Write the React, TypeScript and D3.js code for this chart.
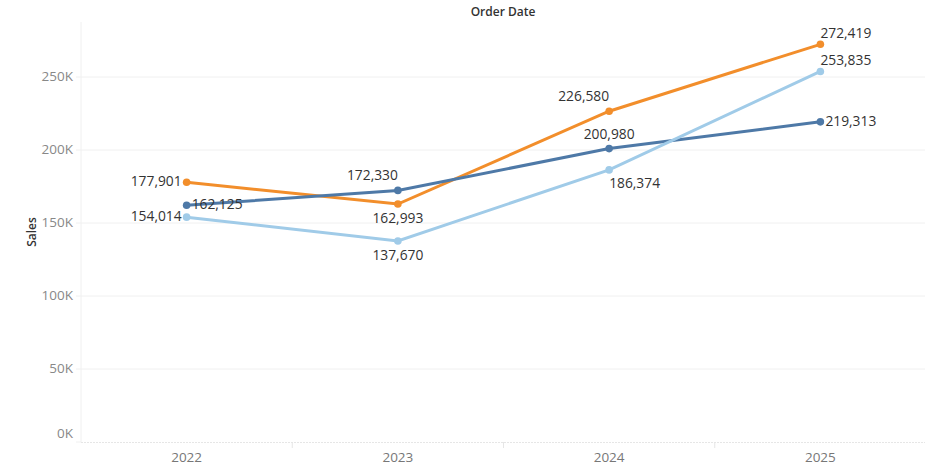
import React, { useEffect, useMemo } from "react";
import * as d3 from "d3";

// data
const YEARS = ["2022", "2023", "2024", "2025"];
const DARK_BLUE = [162125, 172330, 200980, 219313];
const ORANGE = [177901, 162993, 226580, 272419];
const LIGHT_BLUE = [154014, 137670, 186374, 253835];
const Y_TICKS = [0, 50000, 100000, 150000, 200000, 250000];

// where each value label sits relative to its point
const PLACE_DARK = ["r", "tl", "t", "r"];
const PLACE_ORANGE = ["l", "b", "tl", "tr"];
const PLACE_LIGHT = ["l", "b", "br", "tr"];

const W = 925;
const H = 469;
const LEFT = 81;
const RIGHT = 926;
const TOP = 22;
const BOTTOM = 442;
const FONT = "'Open Sans', sans-serif";

const fmt = d3.format(",");

function labelProps(place: string, x: number, y: number) {
  switch (place) {
    case "l":
      return { x: x - 5, y: y, anchor: "end" };
    case "r":
      return { x: x + 5, y: y, anchor: "start" };
    case "t":
      return { x: x, y: y - 13, anchor: "middle" };
    case "b":
      return { x: x, y: y + 15, anchor: "middle" };
    case "tl":
      return { x: x, y: y - 14, anchor: "end" };
    case "tr":
      return { x: x, y: y - 10, anchor: "start" };
    case "br":
      return { x: x, y: y + 14, anchor: "start" };
    default:
      return { x, y, anchor: "middle" };
  }
}

export default function App() {
  useEffect(() => {
    document.body.style.margin = "0";
  }, []);

  const x = useMemo(() => d3.scaleBand().domain(YEARS).range([LEFT, RIGHT]).padding(0), []);
  const y = useMemo(() => d3.scaleLinear().domain([0, 287700]).range([BOTTOM, TOP]), []);

  const series = [
    { values: ORANGE, color: "#f28e2b", place: PLACE_ORANGE },
    { values: DARK_BLUE, color: "#4e79a7", place: PLACE_DARK },
    { values: LIGHT_BLUE, color: "#a0cbe8", place: PLACE_LIGHT },
  ];

  const cx = (yr: string) => (x(yr) ?? 0) + x.bandwidth() / 2;
  const line = d3
    .line<number>()
    .x((_, i) => cx(YEARS[i]))
    .y((d) => y(d));

  const bandEdges = YEARS.slice(1).map((yr) => x(yr) ?? 0);

  return (
    <svg width={W} height={H} style={{ display: "block", background: "#fff" }} fontFamily={FONT}>
      {/* title */}
      <text x={503} y={16} textAnchor="middle" fontSize={12} fontWeight={600} fill="#333">
        Order Date
      </text>
      {/* y axis title */}
      <text
        transform={`translate(36, ${(TOP + BOTTOM) / 2}) rotate(-90)`}
        textAnchor="middle"
        fontSize={12}
        fontWeight={600}
        fill="#333"
      >
        Sales
      </text>

      {/* gridlines */}
      {Y_TICKS.filter((t) => t > 0).map((t) => (
        <line key={t} x1={LEFT} x2={RIGHT} y1={y(t)} y2={y(t)} stroke="#f0f0f0" strokeWidth={1} />
      ))}
      <line x1={LEFT} x2={LEFT} y1={TOP} y2={BOTTOM} stroke="#f0f0f0" />
      <line x1={LEFT} x2={RIGHT} y1={BOTTOM + 0.5} y2={BOTTOM + 0.5} stroke="#e6e6e6" strokeDasharray="2,1" />

      {/* y ticks + labels */}
      {Y_TICKS.map((t) => (
        <g key={t}>
          <line x1={LEFT - 5} x2={LEFT} y1={y(t)} y2={y(t)} stroke="#f0f0f0" />
          <text
            x={LEFT - 8}
            y={t === 0 ? y(t) - 8 : y(t)}
            textAnchor="end"
            dominantBaseline="middle"
            fontSize={13.5}
            fill="#888"
          >
            {d3.format("d")(t / 1000)}K
          </text>
        </g>
      ))}

      {/* x band edges + labels */}
      {bandEdges.map((e) => (
        <line key={e} x1={e} x2={e} y1={BOTTOM} y2={BOTTOM + 6} stroke="#e6e6e6" />
      ))}
      {YEARS.map((yr) => (
        <text key={yr} x={cx(yr)} y={458} textAnchor="middle" dominantBaseline="middle" fontSize={13.5} fill="#777">
          {yr}
        </text>
      ))}

      {/* lines */}
      {series.map((s) => (
        <g key={s.color}>
          <path d={line(s.values) ?? ""} fill="none" stroke={s.color} strokeWidth={3} />
          {s.values.map((v, i) => (
            <circle key={i} cx={cx(YEARS[i])} cy={y(v)} r={3.8} fill={s.color} />
          ))}
        </g>
      ))}

      {/* value labels */}
      {series.map((s) =>
        s.values.map((v, i) => {
          const p = labelProps(s.place[i], cx(YEARS[i]), y(v));
          return (
            <text
              key={s.color + i}
              x={p.x}
              y={p.y}
              textAnchor={p.anchor as any}
              dominantBaseline="middle"
              fontSize={13.8}
              fill="#333"
            >
              {fmt(v)}
            </text>
          );
        })
      )}
    </svg>
  );
}
